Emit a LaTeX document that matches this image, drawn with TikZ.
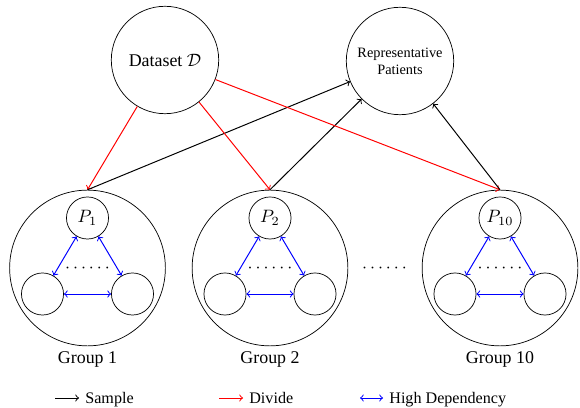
\documentclass[tikz,border=0pt]{standalone}
\usepackage{fontspec}
\setmainfont{Liberation Serif}
\begin{document}
\begin{tikzpicture}[x=0.5586pt,y=-0.5586pt,
  big/.style={draw,circle,minimum size=60pt,inner sep=0pt,align=center},
  grp/.style={draw,circle,minimum size=87pt,inner sep=0pt},
  pat/.style={draw,circle,minimum size=23.5pt,inner sep=0pt},
  link/.style={line width=0.55pt},
  sample/.style={link,->,black},
  divide/.style={link,->,red},
  dep/.style={link,<->,blue},
  txt/.style={inner sep=0pt},
  legtxt/.style={txt,anchor=base west,font=\small}]
\useasboundingbox (0,0) rectangle (580,408);

% data set and the set of representatives
\node[big] (D) at (165,60) {Dataset $\mathcal{D}$};
\node[big,font=\footnotesize] (R) at (400,61) {Representative\\Patients};

% patient groups
\foreach \gx/\n in {87.5/1, 270/2, 500/10}{
  \node[grp] (g\n) at (\gx,268) {};
  \node[pat] (p\n) at (\gx,218) {$P_{\n}$};
  \node[pat] (l\n) at (\gx-45,294) {};
  \node[pat] (r\n) at (\gx+45,294) {};
  \node[txt,anchor=base] (dots\n) at (\gx,272.5) {$\cdots\cdots$};
  \node (lab\n) at (\gx,359) {Group \n};
  \draw[dep] (p\n) -- (l\n);
  \draw[dep] (p\n) -- (r\n);
  \draw[dep] (l\n) -- (r\n);
  \draw[divide] (D) -- (g\n.north);
  \draw[sample] (g\n.north) -- (R);
}
\node[txt,anchor=base] (gdots) at (384.5,272.5) {$\cdots\cdots$};

% legend
\coordinate (s1) at (55,398);  \coordinate (s2) at (79,398);
\coordinate (d1) at (219,398); \coordinate (d2) at (243,398);
\coordinate (h1) at (360,398); \coordinate (h2) at (383,398);
\draw[sample] (s1) -- (s2);
\draw[divide] (d1) -- (d2);
\draw[dep] (h1) -- (h2);
\node[legtxt] (ls) at (85,403) {Sample};
\node[legtxt] (ld) at (249,403) {Divide};
\node[legtxt] (lh) at (389,403) {High Dependency};
\end{tikzpicture}
\end{document}
